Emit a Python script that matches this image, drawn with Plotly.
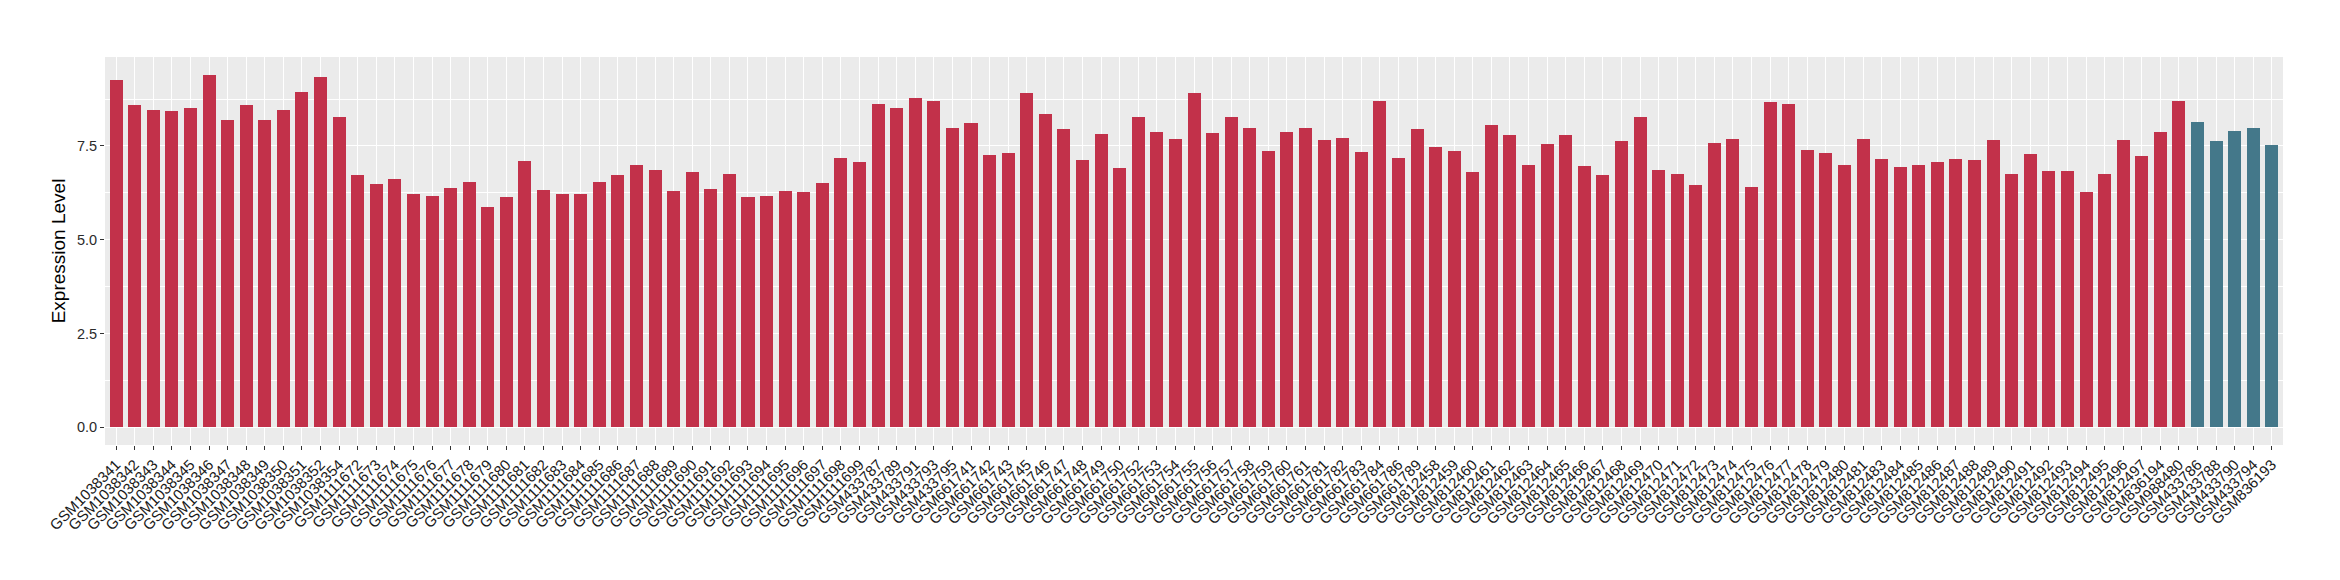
import plotly.graph_objects as go

group_a_samples = [
    "GSM1038341", "GSM1038342", "GSM1038343", "GSM1038344", "GSM1038345", "GSM1038346",
    "GSM1038347", "GSM1038348", "GSM1038349", "GSM1038350", "GSM1038351", "GSM1038352",
    "GSM1038354",
    "GSM1111672", "GSM1111673", "GSM1111674", "GSM1111675", "GSM1111676", "GSM1111677",
    "GSM1111678", "GSM1111679", "GSM1111680", "GSM1111681", "GSM1111682", "GSM1111683",
    "GSM1111684", "GSM1111685", "GSM1111686", "GSM1111687", "GSM1111688", "GSM1111689",
    "GSM1111690", "GSM1111691", "GSM1111692", "GSM1111693", "GSM1111694", "GSM1111695",
    "GSM1111696", "GSM1111697", "GSM1111698", "GSM1111699",
    "GSM433787", "GSM433789", "GSM433791", "GSM433793", "GSM433795",
    "GSM661741", "GSM661742", "GSM661743", "GSM661745", "GSM661746", "GSM661747",
    "GSM661748", "GSM661749", "GSM661750", "GSM661752", "GSM661753", "GSM661754",
    "GSM661755", "GSM661756", "GSM661757", "GSM661758", "GSM661759", "GSM661760",
    "GSM661761", "GSM661781", "GSM661782", "GSM661783", "GSM661784", "GSM661786",
    "GSM661789",
    "GSM812458", "GSM812459", "GSM812460", "GSM812461", "GSM812462", "GSM812463",
    "GSM812464", "GSM812465", "GSM812466", "GSM812467", "GSM812468", "GSM812469",
    "GSM812470", "GSM812471", "GSM812472", "GSM812473", "GSM812474", "GSM812475",
    "GSM812476", "GSM812477", "GSM812478", "GSM812479", "GSM812480", "GSM812481",
    "GSM812483", "GSM812484", "GSM812485", "GSM812486", "GSM812487", "GSM812488",
    "GSM812489", "GSM812490", "GSM812491", "GSM812492", "GSM812493", "GSM812494",
    "GSM812495", "GSM812496", "GSM812497",
    "GSM836194", "GSM988480",
]
group_a_values = [
    9.26, 8.58, 8.47, 8.44, 8.50, 9.40, 8.18, 8.58, 8.18, 8.47, 8.95, 9.34,
    8.26,
    6.72, 6.49, 6.62, 6.22, 6.17, 6.38, 6.54, 5.88, 6.14, 7.09, 6.33, 6.22,
    6.22, 6.54, 6.72, 6.99, 6.86, 6.30, 6.80, 6.35, 6.75, 6.14, 6.17, 6.30,
    6.28, 6.51, 7.17, 7.07,
    8.63, 8.50, 8.79, 8.71, 7.99,
    8.10, 7.25, 7.31, 8.92, 8.34, 7.94, 7.12, 7.81, 6.91, 8.26, 7.86, 7.68,
    8.92, 7.84, 8.28, 7.97, 7.36, 7.86, 7.99, 7.65, 7.70, 7.33, 8.71, 7.17,
    7.94,
    7.46, 7.36, 6.80, 8.07, 7.78, 6.99, 7.54, 7.78, 6.96, 6.72, 7.62, 8.26,
    6.86, 6.75, 6.46, 7.57, 7.68, 6.41, 8.68, 8.63, 7.38, 7.31, 6.99, 7.68,
    7.15, 6.94, 6.99, 7.07, 7.15, 7.12, 7.65, 6.75, 7.28, 6.83, 6.83, 6.27,
    6.75, 7.65, 7.23,
    7.86, 8.71,
]
group_b_samples = ["GSM433786", "GSM433788", "GSM433790", "GSM433794", "GSM836193"]
group_b_values = [8.15, 7.62, 7.91, 7.97, 7.52]

color_a = "#C2314A"
color_b = "#44788A"

samples = group_a_samples + group_b_samples
values = group_a_values + group_b_values
colors = [color_a] * len(group_a_samples) + [color_b] * len(group_b_samples)

ymax = max(values) * 1.05
fig = go.Figure(
    go.Bar(
        x=samples,
        y=values,
        width=0.7,
        marker=dict(color=colors, line=dict(width=0)),
        showlegend=False,
    )
)

fig.update_layout(
    width=2340,
    height=580,
    margin=dict(l=97, r=65, t=49, b=143),
    paper_bgcolor="white",
    plot_bgcolor="#EBEBEB",
    font=dict(family="Liberation Sans, Arial, sans-serif", color="#1a1a1a", size=14),
    bargap=0,
)
fig.update_xaxes(
    type="category",
    categoryorder="array",
    categoryarray=samples,
    range=[-0.6, len(samples) - 0.4],
    tickmode="array",
    tickvals=samples,
    ticktext=samples,
    tickangle=-45,
    tickfont=dict(size=15, color="#1a1a1a"),
    ticks="outside",
    ticklen=4,
    tickcolor="#333333",
    showgrid=True,
    gridcolor="white",
    gridwidth=1.2,
    zeroline=False,
    showline=False,
    automargin=False,
)
fig.update_yaxes(
    range=[-0.05 * max(values), ymax],
    tickvals=[0, 2.5, 5, 7.5],
    tickformat=".1f",
    tickfont=dict(size=14.5, color="#2b2b2b"),
    ticks="outside",
    ticklen=4,
    tickcolor="#333333",
    showgrid=True,
    gridcolor="white",
    gridwidth=1.3,
    minor=dict(tickvals=[1.25, 3.75, 6.25, 8.75], showgrid=True, gridcolor="white", gridwidth=0.6, ticks=""),
    zeroline=False,
    showline=False,
    automargin=False,
    title=dict(text="Expression Level", font=dict(size=19, color="#000000"), standoff=6),
)

fig.write_html("out.html")
